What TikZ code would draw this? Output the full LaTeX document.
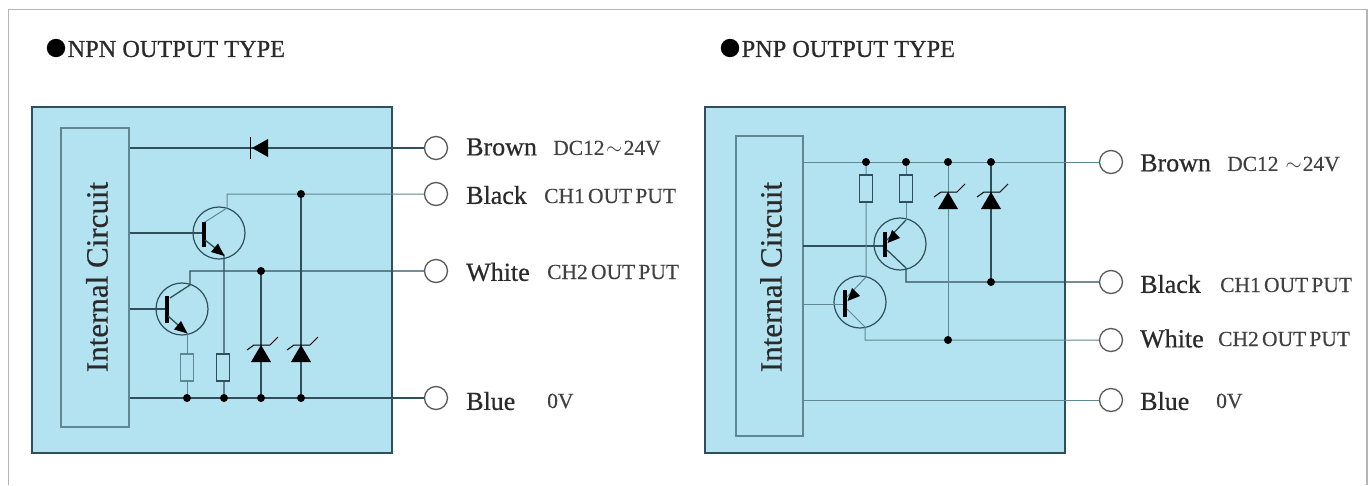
\documentclass[tikz,border=0pt]{standalone}
\usepackage{fontspec}
\setmainfont{Liberation Serif}
\newfontfamily\heavyserif[FakeBold=0.6]{Liberation Serif}
\newfontfamily\tightserif[WordSpace=0.6,FakeBold=0.2]{Liberation Serif}
\definecolor{panel}{HTML}{B3E3F1}
\definecolor{wire}{HTML}{2F4F5A}
\definecolor{thinwire}{HTML}{5F8792}
\definecolor{frameline}{HTML}{B5B5B5}
\definecolor{inkblack}{HTML}{2A2A2A}
\tikzset{
  x=1pt,y=-1pt,
  circbox/.style={draw=thinwire,line width=1.4pt,inner sep=0pt},
  panelbox/.style={draw=wire,fill=panel,line width=1.6pt,inner sep=0pt},
  wr/.style={draw=wire,line width=1.3pt},
  thinwr/.style={draw=thinwire,line width=1pt},
  term/.style={circle,draw=black!65,line width=1.3pt,fill=white,minimum size=23pt,inner sep=0pt},
  jun/.style={circle,fill=black,minimum size=8pt,inner sep=0pt},
  res/.style={draw=wire,line width=1.1pt,fill=panel,minimum width=13pt,minimum height=27pt,inner sep=0pt},
  ressoft/.style={res,draw=thinwire},
  trans/.style={circle,draw=wire,line width=1.2pt,minimum size=52pt,inner sep=0pt},
  lab/.style={anchor=west,inner sep=0pt,font=\heavyserif\fontsize{26}{26}\selectfont,text=inkblack},
  sublab/.style={anchor=west,inner sep=0pt,font=\tightserif\fontsize{21.5}{21.5}\selectfont,text=black!75},
  title/.style={anchor=west,inner sep=0pt,font=\heavyserif\fontsize{24.3}{24.3}\selectfont,text=inkblack},
  icirc/.style={rotate=90,inner sep=0pt,font=\heavyserif\fontsize{31}{31}\selectfont,text=inkblack},
  tbar/.style={line width=4pt,black},
}
% zener: apex at (#1,#2) top; triangle pointing up
\newcommand{\zenerup}[2]{%
  \fill[black] (#1,#2) -- (#1+10,#2+17) -- (#1-10,#2+17) -- cycle;
  \draw[black,line width=1pt] (#1-14,#2+5) -- (#1-7,#2) -- (#1+9,#2) -- (#1+17,#2-8);
}
\begin{document}
\begin{tikzpicture}
\useasboundingbox (0,0) rectangle (1369,485);
\fill[white] (0,0) rectangle (1369,485);
\draw[frameline,line width=1.6pt] (8.5,485) -- (8.5,9.5) -- (1367,9.5) -- (1367,485);

% ---- titles
\fill[black] (56,48) circle (9.2);
\node[title] (t1) at (67.5,49) {NPN OUTPUT TYPE};
\fill[black] (730,48) circle (9.2);
\node[title] (t2) at (741.5,49) {PNP OUTPUT TYPE};

% ---- NPN panel
\node[panelbox,minimum width=360pt,minimum height=346pt] (p1) at (212,280) {};
\node[circbox,minimum width=68pt,minimum height=299pt] (ic1) at (95,277.5) {};
\node[icirc] (ic1t) at (97,277) {Internal Circuit};

\node[term] (tbr1) at (436,148) {};
\node[term] (tbk1) at (436,194) {};
\node[term] (twh1) at (436,271) {};
\node[term] (tbl1) at (436,398) {};
\node[lab] (lbr1) at (466,147) {Brown};
\node[lab] (lbk1) at (466,195) {Black};
\node[lab] (lwh1) at (466,272) {White};
\node[lab] (lbl1) at (466,401) {Blue};
\node[sublab] (sbr1) at (553,148) {DC12\hspace{1.5pt}$\sim$\hspace{1.5pt}24V};
\node[sublab] (sbk1) at (544,196) {CH1 OUT PUT};
\node[sublab] (swh1) at (547,272) {CH2 OUT PUT};
\node[sublab] (sbl1) at (547,401) {0V};

% junction points
\coordinate (ja) at (301,194);
\coordinate (jb) at (261,271);
\coordinate (jc) at (187,398);
\coordinate (jd) at (224,398);
\coordinate (je) at (261,398);
\coordinate (jf) at (301,398);
% transistors
\node[trans] (q1) at (219,233) {};
\node[trans] (q2) at (182,309) {};
\coordinate (b1a) at (203.5,222); \coordinate (b1b) at (203.5,247);
\coordinate (b2a) at (166.5,296); \coordinate (b2b) at (166.5,323);
\coordinate (c1k) at (227,194); \coordinate (c1d) at (227,208); \coordinate (c1b) at (205,222);
\coordinate (c2k) at (190,271); \coordinate (c2d) at (190,285); \coordinate (c2b) at (170,298);
\coordinate (e1b) at (205,240); \coordinate (e1k) at (224,255);
\coordinate (e2b) at (168,316); \coordinate (e2k) at (187,333);
\coordinate (bs1) at (ic1.east|-q1); \coordinate (bs2) at (ic1.east|-q2);
\coordinate (d1) at (252,148);

% wires
\draw[wr] (tbr1.west) -- (ic1.east|-tbr1);
\fill[black] (268,139) -- (268,157) -- (d1) -- cycle;
\draw[black,line width=1pt] (250.5,137) -- (250.5,159);
\draw[thinwr] (tbk1.west) -- (c1k) -- (c1d) -- (c1b);
\draw[wr] (twh1.west) -- (c2k) -- (c2d) -- (c2b);
\draw[wr] (bs1) -- (b1a|-q1);
\draw[wr] (bs2) -- (b2a|-q2);
\draw[tbar] (b1a) -- (b1b);
\draw[tbar] (b2a) -- (b2b);
\draw[wr] (e1b) -- (e1k) -- (jd);
\fill[black] (224.5,256) -- (211,252) -- (218,243.5) -- cycle;
\draw[thinwr] (e2k) -- (jc);
\draw[wr] (e2b) -- (e2k);
\fill[black] (187.5,333.5) -- (174,329.5) -- (181,321) -- cycle;
\node[ressoft] (r1) at (187,367.5) {};
\node[res] (r2) at (223,367.5) {};
\draw[wr] (jb) -- (je);
\draw[wr] (ja) -- (jf);
\zenerup{261}{345}
\zenerup{301}{345}
\draw[wr] (tbl1.west) -- (ic1.east|-tbl1);
\foreach \j in {ja,jb,jc,jd,je,jf} \node[jun] (dot\j) at (\j) {};

% ---- PNP panel
\node[panelbox,minimum width=360pt,minimum height=346pt] (p2) at (885,280) {};
\node[circbox,minimum width=67pt,minimum height=300pt] (ic2) at (769.5,286) {};
\node[icirc] (ic2t) at (771,277) {Internal Circuit};

\node[term] (tbr2) at (1111,162) {};
\node[term] (tbk2) at (1111,282) {};
\node[term] (twh2) at (1111,340) {};
\node[term] (tbl2) at (1111,400) {};
\node[lab] (lbr2) at (1140,163) {Brown};
\node[lab] (lbk2) at (1140,284) {Black};
\node[lab] (lwh2) at (1140,338.5) {White};
\node[lab] (lbl2) at (1140,401) {Blue};
\node[sublab] (sbr2) at (1227,164) {DC12\hspace{7pt}$\sim$\hspace{1pt}24V};
\node[sublab] (sbk2) at (1220,285) {CH1 OUT PUT};
\node[sublab] (swh2) at (1218,339) {CH2 OUT PUT};
\node[sublab] (sbl2) at (1216,401) {0V};

\coordinate (ka) at (866,162);
\coordinate (kb) at (906,162);
\coordinate (kc) at (948,162);
\coordinate (kd) at (991,162);
\coordinate (ke) at (991,282);
\coordinate (kf) at (948,340);
\node[trans] (q3) at (900,244) {};
\node[trans] (q4) at (860,302) {};
\coordinate (b3a) at (885,232); \coordinate (b3b) at (885,257);
\coordinate (b4a) at (845,290); \coordinate (b4b) at (845,317);
\coordinate (e3d) at (906,220); \coordinate (e3b) at (887,240);
\coordinate (c3b) at (887,250); \coordinate (c3d) at (906,268); \coordinate (c3k) at (906,282);
\coordinate (e4d) at (866,277); \coordinate (e4b) at (847,297);
\coordinate (c4b) at (847,309); \coordinate (c4d) at (865,327); \coordinate (c4k) at (865,340);
\coordinate (bs3) at (803,246); \coordinate (bs4) at (803,304);

\draw[thinwr] (tbr2.west) -- (ic2.east|-tbr2);
\draw[wr] (bs3) -- (b3a|-bs3);
\draw[thinwr] (bs4) -- (b4a|-bs4);
\draw[tbar] (b3a) -- (b3b);
\draw[tbar] (b4a) -- (b4b);
\draw[thinwr] (kb) -- (e3d);
\draw[wr] (e3d) -- (e3b);
\fill[black] (887.5,243) -- (892,230) -- (900,238) -- cycle;
\draw[wr] (c3b) -- (c3d) -- (c3k) -- (tbk2.west);
\draw[thinwr] (ka) -- (e4d) -- (e4b);
\fill[black] (847.5,301) -- (852,288) -- (860,296) -- cycle;
\draw[thinwr] (c4b) -- (c4d) -- (c4k) -- (twh2.west);
\node[res] (r3) at (866,188.5) {};
\node[res] (r4) at (906,188.5) {};
\draw[thinwr] (kc) -- (kf);
\draw[wr] (kd) -- (ke);
\zenerup{948}{192}
\zenerup{991}{192}
\draw[thinwr] (tbl2.west) -- (ic2.east|-tbl2);
\foreach \j in {ka,kb,kc,kd,ke,kf} \node[jun] (dot\j) at (\j) {};
\end{tikzpicture}
\end{document}
